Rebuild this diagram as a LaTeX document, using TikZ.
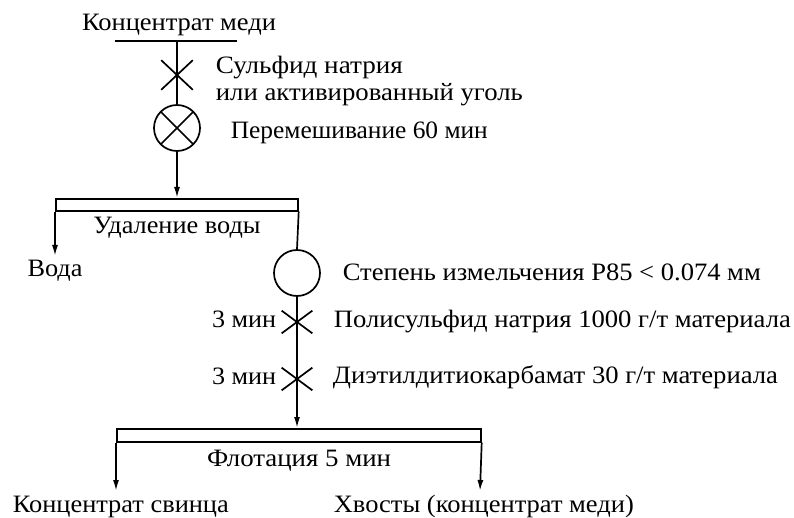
\documentclass[tikz,border=0pt]{standalone}
\usepackage{fontspec}
\usepackage{graphicx}
\setmainfont{Liberation Serif}
\usetikzlibrary{arrows.meta}
\newcommand\fitw[2]{\resizebox{#1}{\height}{#2}}
\begin{document}
\begin{tikzpicture}[x=1pt,y=-1pt,
  line width=1.7pt,
  lbl/.style={inner sep=0pt,font=\fontsize{25}{29}\selectfont,yshift=-3pt},
  arr/.style={-{Latex[length=11pt,width=6pt]}},
  vessel/.style={draw,circle,inner sep=0pt,minimum size=46pt},
  mixer/.style={vessel,path picture={
     \draw (path picture bounding box.north west) -- (path picture bounding box.south east)
           (path picture bounding box.north east) -- (path picture bounding box.south west);}}
]
\useasboundingbox (0,0) rectangle (794,518);
% feed
\node[lbl,anchor=mid] (feed) at (179,25) {\fitw{194pt}{Концентрат меди}};
\coordinate (tl) at (115,41);
\coordinate (tr) at (237,41);
\coordinate (tm) at (177,41);
\draw (tl) -- (tr);
% first reagent cross
\node[inner sep=0pt,minimum width=30pt,minimum height=28pt] (x1) at (177,75) {};
\draw (x1.north west) -- (x1.south east) (x1.north east) -- (x1.south west);
\node[lbl,anchor=mid west] (r1a) at (215,68) {\fitw{187pt}{Сульфид натрия}};
\node[lbl,anchor=mid west] (r1b) at (215,95) {\fitw{307pt}{или активированный уголь}};
% mixer
\node[mixer] (mix) at (177,128) {};
\node[lbl,anchor=mid west] (mixl) at (230,133) {\fitw{257pt}{Перемешивание 60 мин}};
\draw (tm) -- (mix.north);
% dewatering bar
\node[draw,inner sep=0pt,minimum width=242pt,minimum height=12pt,anchor=north west] (bar1) at (55,198) {};
\coordinate (bar1in) at (177,198);
\draw[arr] (mix.south) -- (bar1in);
\node[lbl,anchor=mid] (dew) at (177,228) {\fitw{167pt}{Удаление воды}};
\coordinate (w1) at (55,256);
\draw[arr] (bar1.south west) -- (w1);
\node[lbl,anchor=mid] (water) at (55,271) {\fitw{55pt}{Вода}};
% grinding
\node[vessel] (mill) at (297,273) {};
\draw (bar1.south east) -- (mill.north);
\node[lbl,anchor=mid west] (milll) at (342,275) {\fitw{418pt}{Степень измельчения P85 < 0.074 мм}};
% reagent crosses
\node[inner sep=0pt,minimum width=29pt,minimum height=21pt] (x2) at (297,322) {};
\draw (x2.north west) -- (x2.south east) (x2.north east) -- (x2.south west);
\node[lbl,anchor=mid east] (t2) at (277,322) {\fitw{64pt}{3 мин}};
\node[lbl,anchor=mid west] (r2) at (333,322) {\fitw{457pt}{Полисульфид натрия 1000 г/т материала}};
\node[inner sep=0pt,minimum width=29pt,minimum height=21pt] (x3) at (297,379) {};
\draw (x3.north west) -- (x3.south east) (x3.north east) -- (x3.south west);
\node[lbl,anchor=mid east] (t3) at (277,379) {\fitw{64pt}{3 мин}};
\node[lbl,anchor=mid west] (r3) at (332,378) {\fitw{445pt}{Диэтилдитиокарбамат 30 г/т материала}};
% flotation bar
\node[draw,inner sep=0pt,minimum width=364pt,minimum height=13pt,anchor=north west] (bar2) at (116,428) {};
\coordinate (bar2in) at (297,428);
\draw[arr] (mill.south) -- (bar2in);
\node[lbl,anchor=mid] (flot) at (299,461) {\fitw{184pt}{Флотация 5 мин}};
\coordinate (o1) at (116,491);
\coordinate (o2) at (480,491);
\draw[arr] (bar2.south west) -- (o1);
\draw[arr] (bar2.south east) -- (o2);
\node[lbl,anchor=mid west] (conc) at (12,507) {\fitw{216pt}{Концентрат свинца}};
\node[lbl,anchor=mid west] (tail) at (333,507) {\fitw{300pt}{Хвосты (концентрат меди)}};
\end{tikzpicture}
\end{document}
